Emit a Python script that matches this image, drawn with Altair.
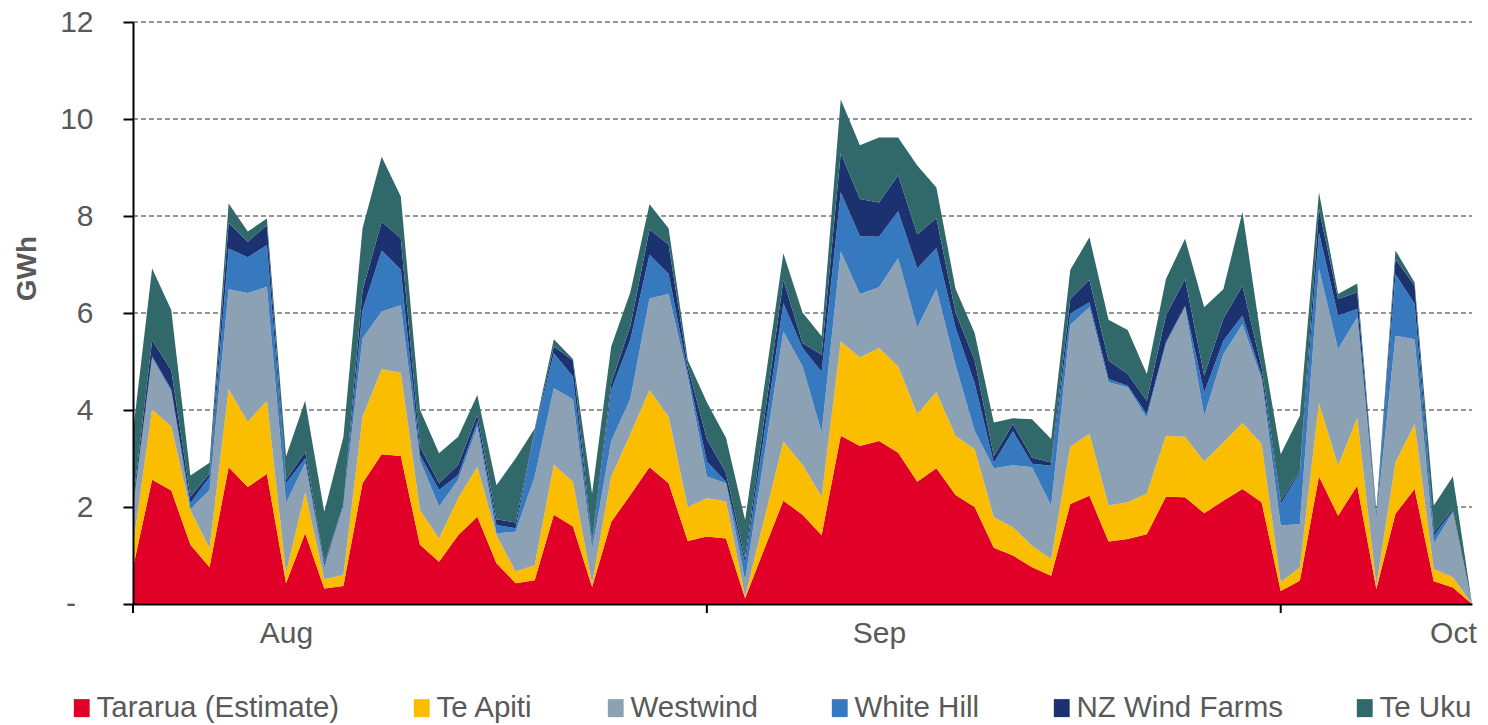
import altair as alt
import pandas as pd

# ---- data (GWh per day) ----
start_date = "2019-07-24"
n_days = 71
series_names = ["Tararua (Estimate)", "Te Apiti", "Westwind", "White Hill",
                "NZ Wind Farms", "Te Uku"]
series_colors = ["#E00028", "#FABD00", "#8CA2B4", "#3679BE", "#1B3170", "#31686A"]

tararua = [0.75, 2.56, 2.34, 1.22, 0.76, 2.82, 2.41, 2.68, 0.43, 1.46,
           0.32, 0.37, 2.49, 3.09, 3.05, 1.22, 0.87, 1.42, 1.80, 0.84,
           0.43, 0.49, 1.84, 1.60, 0.35, 1.69, 2.25, 2.82, 2.49, 1.30,
           1.39, 1.35, 0.12, 1.13, 2.13, 1.84, 1.42, 3.47, 3.26, 3.36,
           3.12, 2.52, 2.80, 2.25, 2.00, 1.16, 1.00, 0.76, 0.58, 2.06,
           2.23, 1.29, 1.34, 1.44, 2.21, 2.20, 1.87, 2.13, 2.37, 2.10,
           0.27, 0.48, 2.63, 1.82, 2.44, 0.31, 1.86, 2.37, 0.47, 0.34,
           0.00]
te_apiti = [0.45, 1.45, 1.32, 0.72, 0.39, 1.61, 1.35, 1.51, 0.21, 0.84,
            0.19, 0.23, 1.37, 1.75, 1.72, 0.72, 0.48, 0.76, 1.03, 0.58,
            0.24, 0.31, 1.03, 0.92, 0.07, 0.94, 1.25, 1.59, 1.37, 0.70,
            0.79, 0.77, 0.03, 0.62, 1.22, 1.03, 0.79, 1.95, 1.82, 1.92,
            1.78, 1.40, 1.57, 1.22, 1.19, 0.63, 0.58, 0.44, 0.35, 1.18,
            1.28, 0.74, 0.76, 0.84, 1.26, 1.25, 1.07, 1.20, 1.36, 1.20,
            0.18, 0.28, 1.51, 1.03, 1.40, 0.07, 1.06, 1.34, 0.25, 0.21,
            0.00]
westwind = [0.70, 1.06, 0.72, 0.02, 1.20, 2.06, 2.65, 2.35, 1.44, 0.60,
            0.23, 1.42, 1.62, 1.19, 1.39, 1.03, 0.66, 0.38, 0.83, 0.04,
            0.82, 1.83, 1.58, 1.70, 0.71, 0.73, 0.73, 1.89, 2.53, 2.69,
            0.45, 0.37, 0.34, 1.30, 2.27, 2.03, 1.33, 1.85, 1.31, 1.25,
            2.23, 1.78, 2.13, 1.46, 0.38, 1.01, 1.28, 1.62, 1.10, 2.52,
            2.61, 2.54, 2.37, 1.56, 1.89, 2.67, 0.94, 1.82, 2.04, 1.34,
            1.17, 0.89, 2.77, 2.41, 2.07, 1.37, 2.61, 1.75, 0.53, 1.34,
            0.00]
white_hill = [0.10, 0.04, 0.05, 0.12, 0.27, 0.84, 0.74, 0.86, 0.41, 0.10,
              0.06, 0.02, 0.58, 1.26, 0.73, 0.10, 0.34, 0.10, 0.10, 0.17,
              0.07, 0.92, 0.72, 0.47, 0.10, 1.05, 1.22, 0.90, 0.42, 0.10,
              0.31, 0.03, 0.35, 0.47, 0.58, 0.38, 1.25, 1.22, 1.19, 1.04,
              0.97, 1.22, 0.84, 0.77, 0.98, 0.11, 0.70, 0.07, 0.82, 0.23,
              0.10, 0.07, 0.03, 0.08, 0.04, 0.03, 0.48, 0.28, 0.18, 0.07,
              0.44, 1.06, 0.75, 0.69, 0.17, 0.04, 1.27, 0.73, 0.16, 0.03,
              0.00]
nz_wind_farms = [0.10, 0.33, 0.39, 0.13, 0.07, 0.53, 0.32, 0.41, 0.07, 0.14,
                 0.05, 0.02, 0.41, 0.59, 0.65, 0.17, 0.14, 0.21, 0.14, 0.12,
                 0.12, 0.02, 0.14, 0.33, 0.07, 0.14, 0.28, 0.52, 0.60, 0.11,
                 0.46, 0.18, 0.10, 0.29, 0.48, 0.10, 0.35, 0.81, 0.77, 0.71,
                 0.74, 0.70, 0.62, 0.31, 0.48, 0.14, 0.15, 0.13, 0.07, 0.30,
                 0.46, 0.38, 0.24, 0.27, 0.55, 0.55, 0.35, 0.45, 0.61, 0.17,
                 0.07, 0.04, 0.48, 0.34, 0.35, 0.03, 0.31, 0.37, 0.07, 0.04,
                 0.00]
te_uku = [1.45, 1.48, 1.24, 0.44, 0.22, 0.40, 0.21, 0.14, 0.48, 1.05,
          1.05, 1.39, 1.28, 1.34, 0.86, 0.77, 0.62, 0.58, 0.41, 0.70,
          1.32, 0.05, 0.15, 0.03, 0.98, 0.76, 0.70, 0.52, 0.34, 0.13,
          0.76, 0.73, 0.79, 0.67, 0.55, 0.63, 0.38, 1.10, 1.11, 1.34,
          0.78, 1.42, 0.63, 0.49, 0.56, 0.69, 0.12, 0.79, 0.48, 0.60,
          0.88, 0.84, 0.91, 0.55, 0.75, 0.83, 1.41, 0.61, 1.52, 0.52,
          0.96, 1.13, 0.35, 0.10, 0.18, 0.10, 0.18, 0.07, 0.55, 0.67,
          0.00]

y_ticks = [0, 2, 4, 6, 8, 10, 12]
grid_values = [2, 4, 6, 8, 10, 12]
zero_label = ["-"]
month_label_dates = ["2019-08-01", "2019-09-01", "2019-10-01"]
axis_tick_dates = ["2019-07-24", "2019-08-23", "2019-09-22"]

# ---- table ----
dates = pd.date_range(start_date, periods=n_days, freq="D").strftime("%Y-%m-%d")
all_series = [tararua, te_apiti, westwind, white_hill, nz_wind_farms, te_uku]
rows = []
for k, (name, vals) in enumerate(zip(series_names, all_series)):
    for d, v in zip(dates, vals):
        rows.append({"date": d, "series": name, "value": v, "k": k})
df = pd.DataFrame(rows)

W, H = 1339, 582
TEXT = "#595959"
FONT = "Liberation Sans"


def dt(s):
    y, m, d = (int(p) for p in s.split("-"))
    return alt.DateTime(year=y, month=m, date=d, utc=True)


x_scale = alt.Scale(type="utc", domain=[dt(dates[0]), dt(dates[-1])])
y_scale = alt.Scale(domain=[0, 12], nice=False)

x_axis = alt.Axis(
    values=[dt(s) for s in month_label_dates],
    labelExpr="utcFormat(datum.value, '%b')",
    ticks=False,
    grid=False,
    domainColor="black",
    domainWidth=2,
    labelFontSize=30,
    labelColor=TEXT,
    labelFont=FONT,
    labelPadding=14,
    labelFlush=False,
    zindex=1,
)
y_axis = alt.Axis(
    values=y_ticks,
    labelExpr="datum.value == 0 ? '' : datum.label",
    grid=False,
    domainColor="black",
    domainWidth=2,
    tickColor="black",
    tickWidth=2,
    tickSize=10,
    labelFontSize=30,
    labelColor=TEXT,
    labelFont=FONT,
    labelPadding=30,
    titleFontSize=28,
    titleFont=FONT,
    titleFontWeight="bold",
    titleColor=TEXT,
    titleX=-106,
    titleY=246,
    titleBaseline="middle",
    titleAngle=-90,
    zindex=1,
)

grid = alt.Chart(pd.DataFrame({"g": grid_values})).mark_rule(
    color="#737373", strokeDash=[5, 3], strokeWidth=1.5
).encode(
    y=alt.Y("g:Q", scale=y_scale, axis=y_axis, title="GWh"),
    x=alt.value(0),
    x2=alt.value(W),
)

areas = alt.Chart(df).mark_area(interpolate="linear").encode(
    x=alt.X("date:T", scale=x_scale, title=None, axis=x_axis),
    y=alt.Y("value:Q", stack="zero", scale=y_scale, title="GWh", axis=y_axis),
    color=alt.Color(
        "series:N",
        scale=alt.Scale(domain=series_names, range=series_colors),
        sort=series_names,
        legend=alt.Legend(
            title=None,
            orient="none",
            legendX=-66,
            legendY=671,
            direction="horizontal",
            symbolType="M-0.88,-1H0.88V1H-0.88Z",
            symbolSize=324,
            symbolStrokeWidth=0,
            symbolOpacity=1,
            labelFontSize=29.5,
            labelFont=FONT,
            labelColor=TEXT,
            labelLimit=0,
            labelOffset=0,
            columnPadding=67,
            padding=0,
        ),
    ),
    order=alt.Order("k:Q", sort="ascending"),
)

zero_text = alt.Chart(pd.DataFrame({"v": [0], "t": zero_label})).mark_text(
    fontSize=30, font=FONT, color=TEXT, align="center", baseline="middle"
).encode(
    y=alt.Y("v:Q", scale=y_scale, axis=y_axis, title="GWh"),
    x=alt.value(-62),
    text="t:N",
)

ticks = alt.Chart(pd.DataFrame({"t": axis_tick_dates})).mark_rule(
    color="black", strokeWidth=2
).encode(
    x=alt.X("t:T", scale=x_scale, title=None, axis=x_axis),
    y=alt.value(H),
    y2=alt.value(H + 9),
)

chart = alt.layer(grid, areas, ticks, zero_text).properties(
    width=W,
    height=H,
    autosize=alt.AutoSizeParams(type="none"),
    padding={"left": 125, "top": 14, "right": 8, "bottom": 120},
).configure(font=FONT).configure_view(stroke=None)

chart.save("out.html", embed_options={"renderer": "svg", "actions": False})
